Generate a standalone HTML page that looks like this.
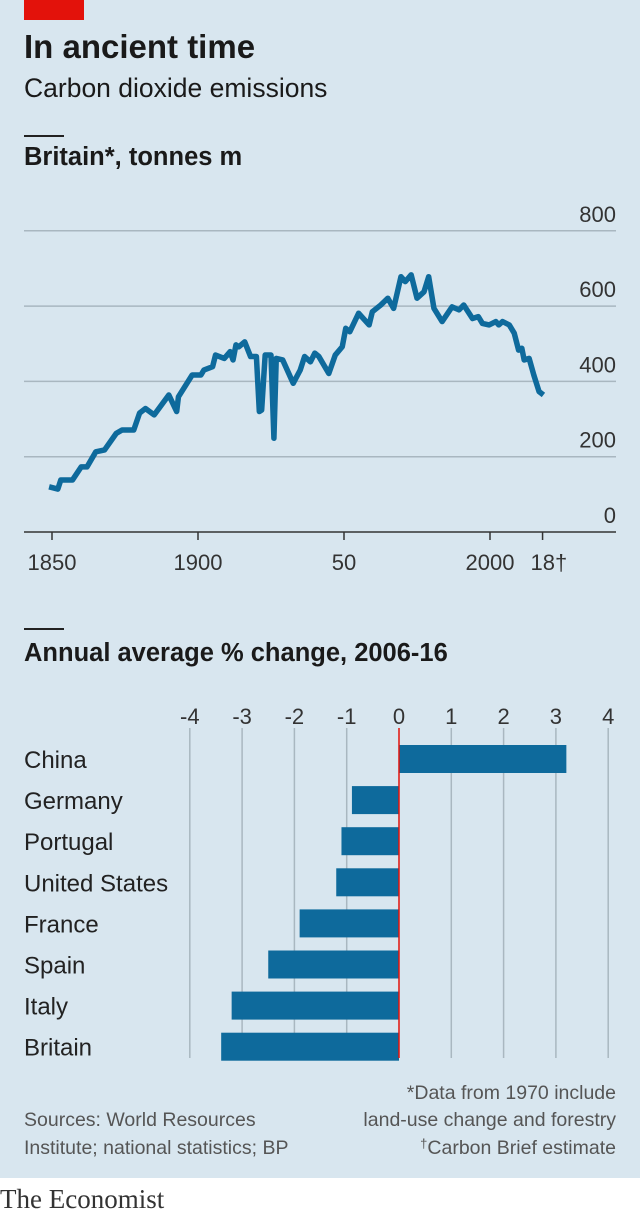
<!DOCTYPE html>
<html><head><meta charset="utf-8"><style>
body{margin:0;width:640px;height:1217px;overflow:hidden;font-family:"Liberation Sans",sans-serif}
#bg{position:absolute;left:0;top:0;width:640px;height:1178px;background:#d8e6ef}
.t{position:absolute;color:#1a1a1a;white-space:nowrap}
</style></head><body>
<div id="bg"></div>
<div style="position:absolute;left:24px;top:0;width:60px;height:20px;background:#e3120b"></div>
<div class="t" style="left:24px;top:28px;font-size:33px;font-weight:bold">In ancient time</div>
<div class="t" style="left:24px;top:73px;font-size:26.5px">Carbon dioxide emissions</div>
<div style="position:absolute;left:24px;top:135px;width:40px;height:2px;background:#222"></div>
<div class="t" style="left:24px;top:143px;font-size:25.5px;font-weight:bold">Britain*, tonnes m</div>
<div style="position:absolute;left:24px;top:628px;width:40px;height:2px;background:#222"></div>
<div class="t" style="left:24px;top:639px;font-size:25.5px;font-weight:bold">Annual average % change, 2006-16</div>
<svg width="640" height="1217" style="position:absolute;left:0;top:0">
<g id="lc"></g><g id="bc"></g>
<text x="616" y="1099" text-anchor="end" font-size="19.5" fill="#555" font-family="Liberation Sans">*Data from 1970 include</text>
<text x="616" y="1126" text-anchor="end" font-size="19.5" fill="#555" font-family="Liberation Sans">land-use change and forestry</text>
<text x="616" y="1154" text-anchor="end" font-size="19.5" fill="#555" font-family="Liberation Sans"><tspan font-size="13" dy="-6">†</tspan><tspan dy="6">Carbon Brief estimate</tspan></text>
<text x="24" y="1126" font-size="19.5" fill="#555" font-family="Liberation Sans">Sources: World Resources</text>
<text x="24" y="1154" font-size="19.5" fill="#555" font-family="Liberation Sans">Institute; national statistics; BP</text>
<text x="0" y="1208" font-size="27" fill="#333" font-family="Liberation Serif">The Economist</text>
</svg>
<script>
const years=[1849,1852,1853,1857,1860,1862,1865,1868,1872,1874,1878,1880,1882,1885,1890,1892.7,1893.3,1898,1901,1902,1905,1906,1909,1911,1912,1913,1914,1916,1918,1920,1921,1921.8,1923,1925,1926,1926.8,1929,1932.6,1935,1936.5,1938.5,1940,1941.4,1944.8,1947,1949.4,1950.6,1952,1955,1958.6,1959.7,1962.6,1965,1967,1969.5,1971,1973,1975,1977.4,1979,1980.8,1983.6,1987,1989.4,1991,1994,1996,1997.4,1999.7,2002,2003,2004.3,2006.6,2008.3,2009.8,2010.9,2011.7,2013.4,2015,2016.8,2018.3];
const emissions=[120,114,138,138,173,173,213,218,262,271,271,316,328,311,364,320,359,417,417,430,439,470,461,479,457,497,492,505,466,466,320,324,470,470,249,461,457,395,430,466,452,475,466,421,470,492,541,532,581,550,585,603,621,594,678,665,683,621,638,678,594,559,598,590,603,567,572,554,550,559,550,559,550,528,483,488,457,461,417,373,364];
const yTicks=[0,200,400,600,800];
const xTickYears=[1850,1900,1950,2000,2018];
const xTickLabels=["1850","1900","50","2000","18†"];
const countries=["China","Germany","Portugal","United States","France","Spain","Italy","Britain"];
const changes=[3.2,-0.9,-1.1,-1.2,-1.9,-2.5,-3.2,-3.4];
const pctTicks=[-4,-3,-2,-1,0,1,2,3,4];
const NS="http://www.w3.org/2000/svg";
function mk(p,tag,a,txt){const e=document.createElementNS(NS,tag);for(const k in a)e.setAttribute(k,a[k]);if(txt!=null)e.textContent=txt;p.appendChild(e);return e;}
const X=y=>52+(y-1850)*2.92, Y=v=>532-v*0.3765;
const lc=document.getElementById('lc');
yTicks.forEach(v=>{
 const l=mk(lc,'line',{x1:24,x2:616,y1:Y(v),y2:Y(v),stroke:v===0?'#333':'#a9b7c0','stroke-width':1.5});
 
 
 const t=mk(lc,'text',{x:616,y:Y(v)-9,'text-anchor':'end','font-size':22,fill:'#333','font-family':'Liberation Sans'},String(v));
 
 
});
xTickYears.forEach((yr,i)=>{
 const l=mk(lc,'line',{x1:X(yr),x2:X(yr),y1:532,y2:540,stroke:'#333','stroke-width':1.5});
 
 
 const t=mk(lc,'text',{x:i===4?X(yr)-12:X(yr),y:570,'text-anchor':i===4?'start':'middle','font-size':22,fill:'#333','font-family':'Liberation Sans'},xTickLabels[i]);
 
 
});
const pl=mk(lc,'polyline',{points:years.map((y,i)=>X(y)+','+Y(emissions[i])).join(' '),fill:'none',stroke:'#0e6a9c','stroke-width':5.5,'stroke-linejoin':'round'});


const bc=document.getElementById('bc');
const BX=v=>399+v*52.3, rowY=i=>759+i*41.1;
pctTicks.forEach(v=>{
 if(v!==0){const l=mk(bc,'line',{x1:BX(v),x2:BX(v),y1:728,y2:1058,stroke:'#a9b7c0','stroke-width':1.5});
 
 }
 const t=mk(bc,'text',{x:BX(v),y:724,'text-anchor':'middle','font-size':22,fill:'#333','font-family':'Liberation Sans'},String(v));
 
 
});
countries.forEach((c,i)=>{
 const v=changes[i];
 const r=mk(bc,'rect',{x:Math.min(BX(0),BX(v)),y:rowY(i)-14,width:Math.abs(BX(v)-BX(0)),height:28,fill:'#0e6a9c'});
 
 
 const t=mk(bc,'text',{x:24,y:rowY(i)+9,'font-size':24,fill:'#222','font-family':'Liberation Sans'},c);
 
 
});
const z=mk(bc,'line',{x1:BX(0),x2:BX(0),y1:728,y2:1058,stroke:'#e3120b','stroke-width':1.5});


</script>
</body></html>
